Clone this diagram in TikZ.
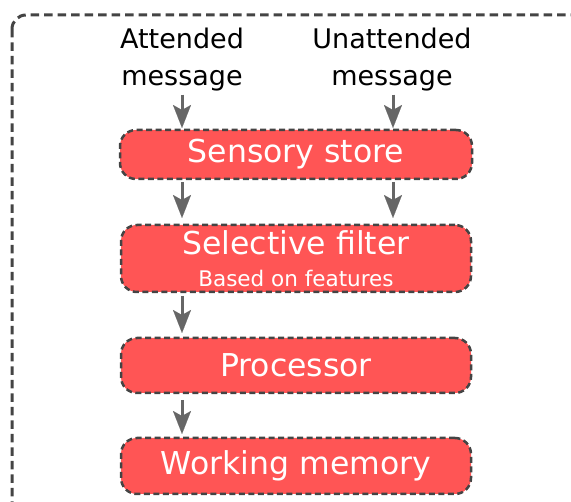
\documentclass[tikz,border=0pt]{standalone}
\usepackage{fontspec}
\setmainfont{DejaVu Sans}
\usetikzlibrary{arrows.meta}
\definecolor{boxfill}{HTML}{FF5555}
\definecolor{edge}{HTML}{444444}
\definecolor{arrowgray}{HTML}{666666}
\begin{document}
\begin{tikzpicture}[x=1pt,y=-1pt,
  stagebox/.style={draw=edge, fill=boxfill, line width=2.5pt,
    dash pattern=on 6pt off 3.5pt, rounded corners=16pt, text=white,
    font=\fontsize{31.5}{38}\selectfont, inner sep=0pt, outer sep=0pt},
  boxtext/.style={anchor=base, text=white, inner sep=0pt},
  msg/.style={align=center, font=\fontsize{27}{37}\selectfont,
    inner sep=0pt, anchor=north},
  flow/.style={draw=arrowgray, line width=3pt,
    -{Stealth[length=23pt, width=18pt, inset=5pt, line width=0.1pt]}}]
\useasboundingbox (0,0) rectangle (571,502);

% outer dashed frame, running off the right and bottom edges
\begin{scope}
  \clip (0,0) rectangle (571,502);
  \draw[edge, line width=3pt, dash pattern=on 8.5pt off 5pt,
    rounded corners=14pt] (12,15) rectangle (600,530);
\end{scope}

% arrow columns
\coordinate (colL) at (182,0);
\coordinate (colR) at (393,0);

% incoming messages
\node[msg] (att) at (182,27.5) {Attended\\message};
\node[msg] (unatt) at (392,27.5) {Unattended\\message};

% processing stages
\node[stagebox, minimum width=352pt, minimum height=49pt] (sens) at (296,154.5) {Sensory store};
\node[stagebox, minimum width=350pt, minimum height=67pt] (filt) at (296,258.5) {};
\node[boxtext, font=\fontsize{31.5}{38}\selectfont] (filttitle) at (296,255) {Selective filter};
\node[boxtext, font=\fontsize{21.5}{26}\selectfont] (filtnote) at (296,286.7) {Based on features};
\node[stagebox, minimum width=350pt, minimum height=55pt] (proc) at (296,365.5) {Processor};
\node[stagebox, minimum width=350pt, minimum height=56pt] (wm) at (296,466) {Working memory};

% connectors
\draw[flow, shorten <=3.5pt, shorten >=2pt] (att.south -| colL) -- (sens.north -| colL);
\draw[flow, shorten <=3.5pt, shorten >=2pt] (unatt.south -| colR) -- (sens.north -| colR);
\draw[flow, shorten <=3pt, shorten >=7pt] (sens.south -| colL) -- (filt.north -| colL);
\draw[flow, shorten <=3pt, shorten >=7pt] (sens.south -| colR) -- (filt.north -| colR);
\draw[flow, shorten <=4pt, shorten >=5pt] (filt.south -| colL) -- (proc.north -| colL);
\draw[flow, shorten <=7pt, shorten >=4pt] (proc.south -| colL) -- (wm.north -| colL);
\end{tikzpicture}
\end{document}
